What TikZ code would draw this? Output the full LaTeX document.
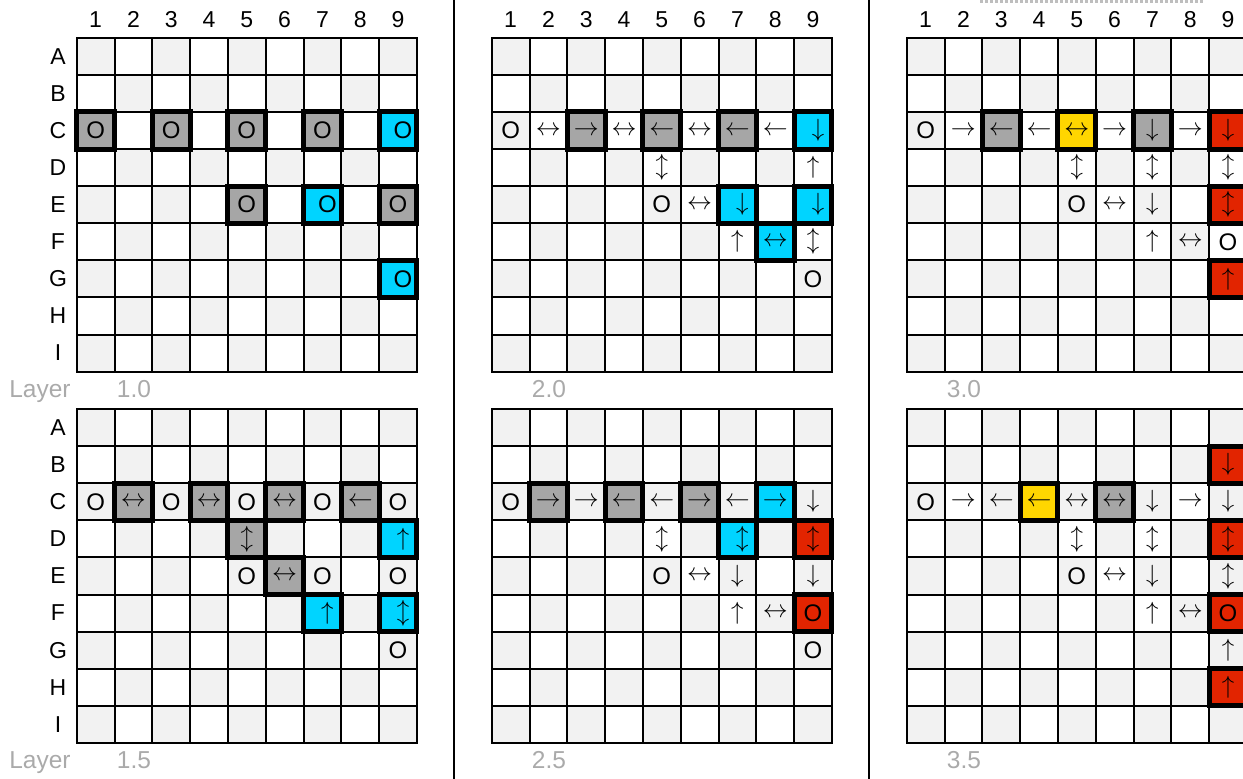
\documentclass[tikz,border=0pt]{standalone}
\usepackage{fontspec}
\setmainfont{Liberation Sans}
\usepackage{xcolor}
\usetikzlibrary{positioning}

\definecolor{cellgray}{RGB}{242,242,242}
\definecolor{boxgray}{RGB}{166,166,166}
\definecolor{boxcyan}{RGB}{0,212,255}
\definecolor{boxyellow}{RGB}{255,214,0}
\definecolor{boxred}{RGB}{226,36,0}
\definecolor{labelgray}{RGB}{170,170,170}
\definecolor{dashgray}{RGB}{190,190,190}

\begin{document}
\begin{tikzpicture}[
  x=1pt, y=-1pt,
  every node/.style={font=\fontsize{23}{26}\selectfont, inner sep=0pt, outer sep=0pt},
  cell/.style={minimum width=37.8pt, minimum height=37.1pt, font=\fontsize{24}{26}\selectfont},
  txt/.style={cell},
  hbox/.style={cell, draw, line width=5pt},
  gbox/.style={hbox, fill=boxgray},
  cbox/.style={hbox, fill=boxcyan},
  cboxr/.style={cbox, execute at begin node={\hspace*{10pt}}},
  ybox/.style={hbox, fill=boxyellow},
  rbox/.style={hbox, fill=boxred},
  gridline/.style={line width=2pt, line cap=rect},
  sepline/.style={line width=2pt},
  layer/.style={text=labelgray, anchor=base, font=\fontsize{24.5}{27}\selectfont},
]
  \useasboundingbox (0,0) rectangle (1243,779);
  \clip (0,0) rectangle (1243,779);

  % separators
  \draw[sepline] (454,0) -- (454,779);
  \draw[sepline] (869,0) -- (869,779);
  \draw[dashgray, line width=3pt, dash pattern=on 3pt off 2pt] (980,1.5) -- (1204,1.5);

  % boards
  \foreach \gx/\gy in {76.7/37.7, 491.7/37.7, 906.7/37.7, 76.7/409, 491.7/409, 906.7/409} {
    \begin{scope}[xshift=\gx pt, yshift=-\gy pt, x=37.8pt, y=-37.1pt]
      \foreach \row in {1,...,9}
        \foreach \col in {1,...,9} {
          \pgfmathtruncatemacro{\odd}{mod(\row+\col,2)}
          \ifnum\odd=0 \fill[cellgray] (\col-1,\row-1) rectangle (\col,\row); \fi
        }
      \foreach \i in {0,...,9} {
        \draw[gridline] (\i,0) -- (\i,9);
        \draw[gridline] (0,\i) -- (9,\i);
      }
    \end{scope}
  }

  % row and column labels
  \foreach \i/\lt in {1/A,2/B,3/C,4/D,5/E,6/F,7/G,8/H,9/I} {
    \node (rowtop\i) at (58,{37.7+(\i-0.5)*37.1}) {\lt};
    \node (rowbot\i) at (58,{409+(\i-0.5)*37.1}) {\lt};
  }
  \foreach \i in {1,...,9} {
    \node (cola\i) at ({76.7+(\i-0.5)*37.8},19.5) {\i};
    \node (colb\i) at ({491.7+(\i-0.5)*37.8},19.5) {\i};
    \node (colc\i) at ({906.7+(\i-0.5)*37.8},19.5) {\i};
  }

  % layer captions
  \node[layer] (laytop) at (40,397) {Layer};
  \node[layer] (laybot) at (40,768.5) {Layer};
  \node[layer] (l10) at (134,397) {1.0};
  \node[layer] (l20) at (549,397) {2.0};
  \node[layer] (l30) at (964,397) {3.0};
  \node[layer] (l15) at (134,768.5) {1.5};
  \node[layer] (l25) at (549,768.5) {2.5};
  \node[layer] (l35) at (964,768.5) {3.5};

  % layer 1.0
  \begin{scope}[xshift=76.7pt, yshift=-37.7pt, x=37.8pt, y=-37.1pt]
    \foreach \col/\row/\sty/\sym in {1/3/gbox/O, 3/3/gbox/O, 5/3/gbox/O, 7/3/gbox/O, 9/3/cboxr/O,
        5/5/gbox/O, 7/5/cboxr/O, 9/5/gbox/O, 9/7/cboxr/O}
      \node[\sty] (a-\row-\col) at (\col-0.5,\row-0.5) {\sym};
  \end{scope}

  % layer 2.0
  \begin{scope}[xshift=491.7pt, yshift=-37.7pt, x=37.8pt, y=-37.1pt]
    \foreach \col/\row/\sty/\sym in {1/3/txt/O, 2/3/txt/$\leftrightarrow$, 3/3/gbox/$\rightarrow$,
        4/3/txt/$\leftrightarrow$, 5/3/gbox/$\leftarrow$, 6/3/txt/$\leftrightarrow$,
        7/3/gbox/$\leftarrow$, 8/3/txt/$\leftarrow$, 9/3/cboxr/$\downarrow$,
        5/4/txt/$\updownarrow$, 9/4/txt/$\uparrow$,
        5/5/txt/O, 6/5/txt/$\leftrightarrow$, 7/5/cboxr/$\downarrow$, 9/5/cboxr/$\downarrow$,
        7/6/txt/$\uparrow$, 8/6/cbox/$\leftrightarrow$, 9/6/txt/$\updownarrow$,
        9/7/txt/O}
      \node[\sty] (b-\row-\col) at (\col-0.5,\row-0.5) {\sym};
  \end{scope}

  % layer 3.0
  \begin{scope}[xshift=906.7pt, yshift=-37.7pt, x=37.8pt, y=-37.1pt]
    \foreach \col/\row/\sty/\sym in {1/3/txt/O, 2/3/txt/$\rightarrow$, 3/3/gbox/$\leftarrow$,
        4/3/txt/$\leftarrow$, 5/3/ybox/$\leftrightarrow$, 6/3/txt/$\rightarrow$,
        7/3/gbox/$\downarrow$, 8/3/txt/$\rightarrow$, 9/3/rbox/$\downarrow$,
        5/4/txt/$\updownarrow$, 7/4/txt/$\updownarrow$, 9/4/txt/$\updownarrow$,
        5/5/txt/O, 6/5/txt/$\leftrightarrow$, 7/5/txt/$\downarrow$, 9/5/rbox/$\updownarrow$,
        7/6/txt/$\uparrow$, 8/6/txt/$\leftrightarrow$, 9/6/txt/O,
        9/7/rbox/$\uparrow$}
      \node[\sty] (c-\row-\col) at (\col-0.5,\row-0.5) {\sym};
  \end{scope}

  % layer 1.5
  \begin{scope}[xshift=76.7pt, yshift=-409pt, x=37.8pt, y=-37.1pt]
    \foreach \col/\row/\sty/\sym in {1/3/txt/O, 2/3/gbox/$\leftrightarrow$, 3/3/txt/O,
        4/3/gbox/$\leftrightarrow$, 5/3/txt/O, 6/3/gbox/$\leftrightarrow$, 7/3/txt/O,
        8/3/gbox/$\leftarrow$, 9/3/txt/O,
        5/4/gbox/$\updownarrow$, 9/4/cboxr/$\uparrow$,
        5/5/txt/O, 6/5/gbox/$\leftrightarrow$, 7/5/txt/O, 9/5/txt/O,
        7/6/cboxr/$\uparrow$, 9/6/cboxr/$\updownarrow$,
        9/7/txt/O}
      \node[\sty] (d-\row-\col) at (\col-0.5,\row-0.5) {\sym};
  \end{scope}

  % layer 2.5
  \begin{scope}[xshift=491.7pt, yshift=-409pt, x=37.8pt, y=-37.1pt]
    \foreach \col/\row/\sty/\sym in {1/3/txt/O, 2/3/gbox/$\rightarrow$, 3/3/txt/$\rightarrow$,
        4/3/gbox/$\leftarrow$, 5/3/txt/$\leftarrow$, 6/3/gbox/$\rightarrow$,
        7/3/txt/$\leftarrow$, 8/3/cbox/$\rightarrow$, 9/3/txt/$\downarrow$,
        5/4/txt/$\updownarrow$, 7/4/cboxr/$\updownarrow$, 9/4/rbox/$\updownarrow$,
        5/5/txt/O, 6/5/txt/$\leftrightarrow$, 7/5/txt/$\downarrow$, 9/5/txt/$\downarrow$,
        7/6/txt/$\uparrow$, 8/6/txt/$\leftrightarrow$, 9/6/rbox/O,
        9/7/txt/O}
      \node[\sty] (e-\row-\col) at (\col-0.5,\row-0.5) {\sym};
  \end{scope}

  % layer 3.5
  \begin{scope}[xshift=906.7pt, yshift=-409pt, x=37.8pt, y=-37.1pt]
    \foreach \col/\row/\sty/\sym in {9/2/rbox/$\downarrow$,
        1/3/txt/O, 2/3/txt/$\rightarrow$, 3/3/txt/$\leftarrow$, 4/3/ybox/$\leftarrow$,
        5/3/txt/$\leftrightarrow$, 6/3/gbox/$\leftrightarrow$, 7/3/txt/$\downarrow$,
        8/3/txt/$\rightarrow$, 9/3/txt/$\downarrow$,
        5/4/txt/$\updownarrow$, 7/4/txt/$\updownarrow$, 9/4/rbox/$\updownarrow$,
        5/5/txt/O, 6/5/txt/$\leftrightarrow$, 7/5/txt/$\downarrow$, 9/5/txt/$\updownarrow$,
        7/6/txt/$\uparrow$, 8/6/txt/$\leftrightarrow$, 9/6/rbox/O,
        9/7/txt/$\uparrow$,
        9/8/rbox/$\uparrow$}
      \node[\sty] (f-\row-\col) at (\col-0.5,\row-0.5) {\sym};
  \end{scope}
\end{tikzpicture}
\end{document}
